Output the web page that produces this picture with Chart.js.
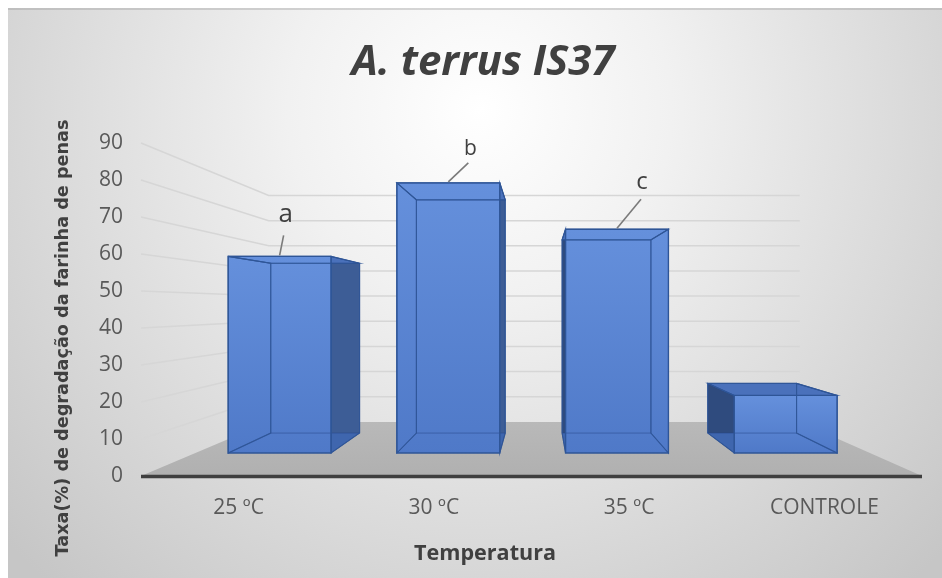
<!DOCTYPE html>
<html><head><meta charset="utf-8">
<script src="https://cdn.jsdelivr.net/npm/chart.js@4.4.1/dist/chart.umd.min.js"></script>
<style>html,body{margin:0;padding:0;background:#fff;overflow:hidden}#wrap{width:942px;height:578px}</style>
</head><body><div id="wrap"><canvas id="c" width="942" height="578"></canvas></div>
<script>
// ---- data ----
const categories = ['25 ºC', '30 ºC', '35 ºC', 'CONTROLE'];
const values = [61.5, 84.5, 70, 18];
const yTicks = [0, 10, 20, 30, 40, 50, 60, 70, 80, 90];
const letters = ['a', 'b', 'c', ''];
const titleText = 'A. terrus IS37';
const yTitleText = 'Taxa(%) de degradação da farinha de penas';
const xTitleText = 'Temperatura';

// ---- styling / geometry (not data) ----
const W = 942, H = 578;
const persp = {vx: 540, vy: 307, wall: 0.68, front: 0.864, back: 0.746};
const labelOffsets = [
  {line: [4, -21], text: [6, -34], size: 26},
  {line: [20, -20], text: [22, -28], size: 21},
  {line: [24, -30], text: [25, -40], size: 24},
  null
];

function pj(x, y, s) { return [persp.vx + (x - persp.vx) * s, persp.vy + (y - persp.vy) * s]; }
function poly(ctx, pts, fill, stroke, lw) {
  ctx.beginPath();
  ctx.moveTo(pts[0][0], pts[0][1]);
  for (let i = 1; i < pts.length; i++) ctx.lineTo(pts[i][0], pts[i][1]);
  ctx.closePath();
  if (fill) { ctx.fillStyle = fill; ctx.fill(); }
  if (stroke) { ctx.strokeStyle = stroke; ctx.lineWidth = lw || 1; ctx.stroke(); }
}
function fitText(ctx, text, cx, cy, font, width, rot) {
  ctx.save();
  ctx.font = font;
  const m = ctx.measureText(text).width;
  ctx.translate(cx, cy);
  if (rot) ctx.rotate(rot);
  ctx.scale(width / m, 1);
  ctx.textAlign = 'center';
  ctx.textBaseline = 'alphabetic';
  ctx.fillText(text, 0, 0);
  ctx.restore();
}

const scene = {
  id: 'scene',
  beforeDraw(chart) {
    const {ctx, chartArea: a} = chart;
    const y = chart.scales.y;
    ctx.save();
    ctx.fillStyle = '#ffffff';
    ctx.fillRect(0, 0, W, H);
    const g = ctx.createRadialGradient(480, 110, 0, 480, 110, 640);
    g.addColorStop(0, '#ffffff');
    g.addColorStop(0.3, '#f1f1f1');
    g.addColorStop(1, '#c6c6c6');
    ctx.fillStyle = g;
    ctx.fillRect(8, 8, W - 8, H - 8);
    ctx.fillStyle = 'rgba(150,150,150,0.35)';
    ctx.fillRect(8, 8, W - 8, 2);

    // wall gridlines
    ctx.strokeStyle = '#d6d6d6';
    ctx.lineWidth = 1.5;
    yTicks.forEach(v => {
      if (v === 0) return;
      const yf = y.getPixelForValue(v);
      const b1 = pj(a.left, yf, persp.wall), b2 = pj(a.right, yf, persp.wall);
      ctx.beginPath();
      ctx.moveTo(a.left, yf); ctx.lineTo(b1[0], b1[1]); ctx.lineTo(b2[0], b2[1]);
      ctx.stroke();
    });
    // floor
    const y0 = y.getPixelForValue(0);
    const fg = ctx.createLinearGradient(0, y0 - 55, 0, y0);
    fg.addColorStop(0, '#b9b9b9'); fg.addColorStop(1, '#b0b0b0');
    poly(ctx, [[a.left, y0], pj(a.left, y0, persp.wall), pj(a.right, y0, persp.wall), [a.right, y0]], fg);
    // axis line
    ctx.strokeStyle = '#3f3f3f';
    ctx.lineWidth = 3.5;
    ctx.beginPath(); ctx.moveTo(a.left, y0 + 0.5); ctx.lineTo(a.right, y0 + 0.5); ctx.stroke();

    // titles
    ctx.fillStyle = '#404040';
    fitText(ctx, titleText, 483, 75, 'italic bold 41px "Open Sans"', 263);
    fitText(ctx, xTitleText, 485, 560, 'bold 22px "Open Sans"', 142);
    fitText(ctx, yTitleText, 68, 338, 'bold 17px "DejaVu Sans"', 437, -Math.PI / 2);
    ctx.restore();
  },
  afterDatasetsDraw(chart) {
    const {ctx} = chart;
    const meta = chart.getDatasetMeta(0);
    ctx.save();
    meta.data.forEach((el, i) => {
      const p = el.getProps(['x', 'y', 'base', 'width'], true);
      const x0 = p.x - p.width / 2, x1 = p.x + p.width / 2;
      const fS = persp.front, bS = persp.back;
      const F = [pj(x0, p.y, fS), pj(x1, p.y, fS), pj(x1, p.base, fS), pj(x0, p.base, fS)];
      const B = [pj(x0, p.y, bS), pj(x1, p.y, bS), pj(x1, p.base, bS), pj(x0, p.base, bS)];
      poly(ctx, B, '#4b74c0');
      poly(ctx, [F[0], B[0], B[3], F[3]], '#2f4b7e');
      poly(ctx, [F[1], B[1], B[2], F[2]], '#3d5d96');
      poly(ctx, [F[3], F[2], B[2], B[3]], '#3f66ae');
      poly(ctx, [F[0], F[1], B[1], B[0]], '#4a71bb');
      const gr = ctx.createLinearGradient(0, F[0][1], 0, F[3][1]);
      gr.addColorStop(0, '#6590dc');
      gr.addColorStop(1, '#4f79c8');
      poly(ctx, F, gr);
      ctx.strokeStyle = 'rgba(38,70,135,0.5)';
      ctx.lineWidth = 1;
      poly(ctx, B, null, 'rgba(38,70,135,0.5)', 1);
      for (let k = 0; k < 4; k++) {
        ctx.beginPath(); ctx.moveTo(F[k][0], F[k][1]); ctx.lineTo(B[k][0], B[k][1]); ctx.stroke();
      }
      poly(ctx, F, null, '#2f5597', 1.3);
      poly(ctx, [F[0], B[0], B[3], F[3]], null, 'rgba(47,85,151,0.9)', 1.1);
      poly(ctx, [F[1], B[1], B[2], F[2]], null, 'rgba(47,85,151,0.9)', 1.1);
      poly(ctx, [F[0], F[1], B[1], B[0]], null, 'rgba(47,85,151,0.9)', 1.1);

      const lo = labelOffsets[i];
      if (letters[i] && lo) {
        const an = pj(p.x, p.y, fS);
        ctx.strokeStyle = '#7a7a7a';
        ctx.lineWidth = 1.6;
        ctx.beginPath();
        ctx.moveTo(an[0], an[1] - 1);
        ctx.lineTo(an[0] + lo.line[0], an[1] + lo.line[1]);
        ctx.stroke();
        ctx.fillStyle = '#404040';
        ctx.font = lo.size + 'px "Open Sans"';
        ctx.textAlign = 'center';
        ctx.textBaseline = 'alphabetic';
        ctx.fillText(letters[i], an[0] + lo.text[0], an[1] + lo.text[1]);
      }
    });
    ctx.restore();
  }
};

new Chart(document.getElementById('c').getContext('2d'), {
  type: 'bar',
  data: {
    labels: categories,
    datasets: [{
      data: values,
      backgroundColor: 'rgba(0,0,0,0)',
      borderWidth: 0,
      barPercentage: 0.61,
      categoryPercentage: 1
    }]
  },
  options: {
    responsive: false,
    animation: false,
    devicePixelRatio: 1,
    layout: {padding: {left: 0, right: 20, top: 143, bottom: 0}},
    plugins: {legend: {display: false}, tooltip: {enabled: false}, title: {display: false}},
    scales: {
      x: {
        grid: {display: false},
        border: {display: false},
        ticks: {font: {family: 'Open Sans', size: 21}, color: '#595959', padding: 11, maxRotation: 0, autoSkip: false},
        afterFit: s => { s.height = 102; }
      },
      y: {
        min: 0, max: 90,
        afterBuildTicks: s => { s.ticks = yTicks.map(v => ({value: v})); },
        grid: {display: false},
        border: {display: false},
        ticks: {font: {family: 'Open Sans', size: 21}, color: '#595959', padding: 10},
        afterFit: s => { s.width = 141; }
      }
    }
  },
  plugins: [scene]
});
</script>
</body></html>
